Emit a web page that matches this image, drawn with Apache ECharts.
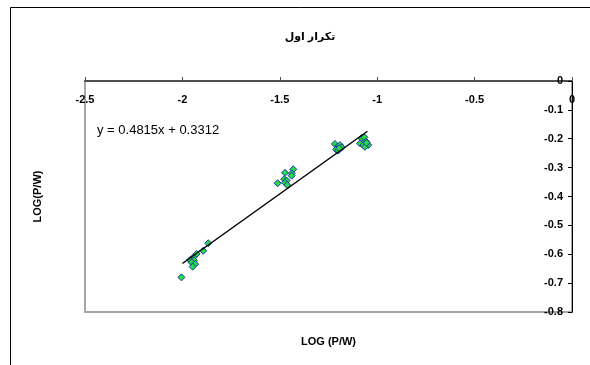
<!DOCTYPE html>
<html>
<head>
<meta charset="utf-8">
<script src="https://cdn.jsdelivr.net/npm/echarts@6/dist/echarts.min.js"></script>
<style>
  html, body { margin: 0; padding: 0; background: #fff; }
  #chart { width: 590px; height: 365px; }
</style>
</head>
<body>
<div id="chart"></div>
<script>
// measured points: LOG(P/W) vs LOG(F/W)
const logPW = [
  -1.080, -1.066, -1.088, -1.071, -1.057, -1.046, -1.063, -1.054,
  -1.217, -1.205, -1.191, -1.182, -1.211, -1.200, -1.195,
  -1.473, -1.431, -1.439, -1.439, -1.511, -1.477, -1.465, -1.473, -1.462,
  -1.867, -1.893, -1.927, -1.944, -1.961, -1.940, -1.952, -1.935, -1.947, -2.005
]
const logFW = [
  -0.198, -0.195, -0.216, -0.222, -0.210, -0.222, -0.228, -0.214,
  -0.218, -0.228, -0.222, -0.230, -0.237, -0.241, -0.233,
  -0.318, -0.306, -0.320, -0.328, -0.354, -0.340, -0.345, -0.352, -0.360,
  -0.562, -0.588, -0.599, -0.611, -0.620, -0.622, -0.629, -0.634, -0.643, -0.680
]
// trendline ends as drawn
const fitX = [-2.0, -1.05]
const fitY = [-0.632, -0.174]

const titleText = 'تكرار اول'
const equationText = 'y = 0.4815x + 0.3312'
const xTitle = 'LOG (P/W)'
const yTitle = 'LOG(P/W)'

const chart = echarts.init(document.getElementById('chart'))

const font = 'Liberation Sans, Arial, DejaVu Sans, sans-serif'

const option = {
  animation: false,
  backgroundColor: '#fff',
  title: {
    text: titleText,
    left: 305,
    top: 26,
    textAlign: 'center',
    textStyle: { fontFamily: font, fontSize: 11, fontWeight: 'bold', color: '#000' }
  },
  grid: {
    left: 85,
    top: 81,
    width: 487,
    height: 231,
    show: true,
    borderColor: '#a6a6a6',
    borderWidth: 2,
    backgroundColor: '#fff'
  },
  xAxis: [
    {
      type: 'value',
      position: 'top',
      min: -2.5,
      max: 0,
      interval: 0.5,
      axisLine: { show: true, onZero: false, lineStyle: { color: '#505050', width: 2 } },
      axisTick: { show: true, inside: false, length: 4, lineStyle: { color: '#505050' } },
      axisLabel: {
        inside: true,
        margin: 13,
        color: '#000',
        fontFamily: font,
        fontSize: 11,
        fontWeight: 'bold'
      },
      splitLine: { show: false }
    },
    {
      type: 'value',
      position: 'bottom',
      min: -2.5,
      max: 0,
      axisLine: { show: false },
      axisTick: { show: false },
      axisLabel: { show: false },
      splitLine: { show: false },
      name: xTitle,
      nameLocation: 'middle',
      nameGap: 24,
      nameTextStyle: { fontFamily: font, fontSize: 11, fontWeight: 'bold', color: '#000' }
    }
  ],
  yAxis: [
    {
      type: 'value',
      position: 'right',
      min: -0.8,
      max: 0,
      interval: 0.1,
      axisLine: { show: true, onZero: false, lineStyle: { color: '#000', width: 1 } },
      axisTick: { show: true, inside: true, length: 4, lineStyle: { color: '#000' } },
      axisLabel: {
        inside: true,
        margin: 9,
        color: '#000',
        fontFamily: font,
        fontSize: 11,
        fontWeight: 'bold',
        formatter: v => String(Math.round(v * 10) / 10)
      },
      splitLine: { show: false }
    },
    {
      type: 'value',
      position: 'left',
      min: -0.8,
      max: 0,
      axisLine: { show: false },
      axisTick: { show: false },
      axisLabel: { show: false },
      splitLine: { show: false },
      name: yTitle,
      nameLocation: 'middle',
      nameRotate: 90,
      nameGap: 42,
      nameTextStyle: { fontFamily: font, fontSize: 11, fontWeight: 'bold', color: '#000' }
    }
  ],
  graphic: [
    {
      type: 'rect',
      silent: true,
      z: -10,
      shape: { x: 10.5, y: 7.5, width: 620, height: 400 },
      style: { fill: 'none', stroke: '#000', lineWidth: 1 }
    },
    {
      type: 'text',
      left: 97,
      top: 124,
      style: { text: equationText, fontFamily: font, fontSize: 13, fill: '#000' }
    }
  ],
  series: [
    {
      type: 'scatter',
      xAxisIndex: 0,
      yAxisIndex: 0,
      symbol: 'diamond',
      symbolSize: 7,
      itemStyle: { color: '#22dd44', borderColor: '#2233aa', borderWidth: 1, opacity: 1 },
      data: logPW.map((x, i) => [x, logFW[i]]),
      z: 3
    },
    {
      type: 'line',
      xAxisIndex: 0,
      yAxisIndex: 0,
      symbol: 'none',
      lineStyle: { color: '#000', width: 1.5 },
      data: fitX.map((x, i) => [x, fitY[i]]),
      z: 4
    }
  ]
}

chart.setOption(option)
</script>
</body>
</html>
